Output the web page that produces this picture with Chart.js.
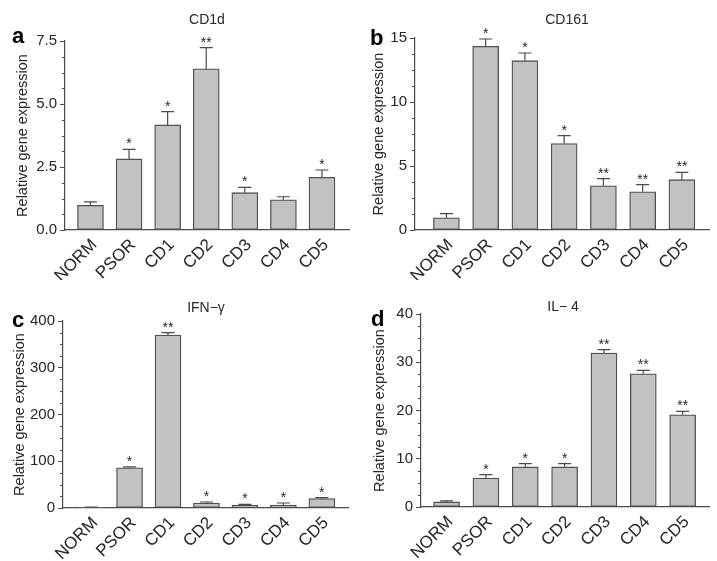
<!DOCTYPE html>
<html lang="en">
<head>
  <meta charset="UTF-8" />
  <title>Relative gene expression</title>
  <style>
    body {
      margin: 0;
      background: #fff;
    }
    .wrap {
      position: relative;
      width: 717px;
      height: 561px;
      overflow: hidden;
    }
    canvas {
      position: absolute;
    }
    #ca { left: 0; top: 0; }
    #cb { left: 358px; top: 0; }
    #cc { left: 0; top: 280px; }
    #cd { left: 358px; top: 280px; }
  </style>
</head>
<body>
  <div class="wrap">
    <canvas id="ca" width="358" height="280"></canvas>
    <canvas id="cb" width="359" height="280"></canvas>
    <canvas id="cc" width="358" height="281"></canvas>
    <canvas id="cd" width="359" height="281"></canvas>
  </div>

  <script src="https://cdn.jsdelivr.net/npm/chart.js"></script>
  <script>
    // data
    const groups = ['NORM', 'PSOR', 'CD1', 'CD2', 'CD3', 'CD4', 'CD5'];

    const cd1dMean = [0.98, 2.82, 4.17, 6.4, 1.48, 1.2, 2.09];
    const cd1dTop = [1.12, 3.2, 4.7, 7.24, 1.69, 1.32, 2.38];
    const cd1dStars = ['', '*', '*', '**', '*', '', '*'];
    const cd1dTicks = [0, 2.5, 5, 7.5];

    const cd161Mean = [0.95, 14.35, 13.23, 6.75, 3.45, 2.98, 3.93];
    const cd161Top = [1.28, 14.92, 13.83, 7.37, 4.01, 3.54, 4.5];
    const cd161Stars = ['', '*', '*', '*', '**', '**', '**'];
    const cd161Ticks = [0, 5, 10, 15];

    const ifngMean = [1, 86, 370, 10.7, 6.4, 6.4, 20];
    const ifngTop = [2, 88, 375, 12.8, 7.8, 10.7, 22];
    const ifngStars = ['', '*', '**', '*', '*', '*', '*'];
    const ifngTicks = [0, 100, 200, 300, 400];

    const il4Mean = [1.05, 6.0, 8.3, 8.3, 31.9, 27.6, 19.1];
    const il4Top = [1.25, 6.7, 9.0, 9.0, 32.6, 28.3, 19.8];
    const il4Stars = ['', '*', '*', '*', '**', '**', '**'];
    const il4Ticks = [0, 10, 20, 30, 40];

    const ink = '#262626';
    const axisInk = '#4a4a4a';
    const fam = '"Liberation Sans", Arial, Helvetica, sans-serif';

    Chart.defaults.font.family = fam;
    Chart.defaults.color = ink;

    // error bars, stars, minor ticks, panel title and letter
    const deco = {
      id: 'deco',
      afterDatasetsDraw(chart, args, o) {
        const ctx = chart.ctx;
        const y = chart.scales.y;
        const meta = chart.getDatasetMeta(0);
        const left = chart.chartArea.left;
        ctx.save();
        ctx.strokeStyle = axisInk;
        ctx.lineWidth = 1.2;
        o.top.forEach((t, i) => {
          const bar = meta.data[i];
          const ey = y.getPixelForValue(t);
          ctx.beginPath();
          ctx.moveTo(bar.x, bar.y);
          ctx.lineTo(bar.x, ey);
          ctx.moveTo(bar.x - 6.5, ey);
          ctx.lineTo(bar.x + 6.5, ey);
          ctx.stroke();
          if (o.stars[i]) {
            ctx.fillStyle = ink;
            ctx.font = '14px ' + fam;
            ctx.textAlign = 'center';
            ctx.textBaseline = 'alphabetic';
            ctx.fillText(o.stars[i], bar.x, ey - 1);
          }
        });
        // minor ticks, 4 intervals per major step
        const t = o.ticks;
        const minor = (t[1] - t[0]) / 4;
        ctx.lineWidth = 1;
        for (let k = 1; k < (t.length - 1) * 4; k++) {
          if (k % 4 === 0) continue;
          const py = Math.round(y.getPixelForValue(k * minor)) + 0.5;
          ctx.beginPath();
          ctx.moveTo(left - 3, py);
          ctx.lineTo(left, py);
          ctx.stroke();
        }
        ctx.restore();
      },
      afterDraw(chart, args, o) {
        const ctx = chart.ctx;
        ctx.save();
        ctx.fillStyle = ink;
        ctx.textBaseline = 'alphabetic';
        ctx.font = '14px ' + fam;
        ctx.textAlign = 'center';
        ctx.fillText(o.title, o.titleX, o.titleY);
        ctx.font = 'bold 22px ' + fam;
        ctx.textAlign = 'left';
        ctx.fillStyle = '#000';
        ctx.fillText(o.letter, o.letterX, o.letterY);
        ctx.restore();
      }
    };

    function makePanel(id, p) {
      new Chart(document.getElementById(id), {
        type: 'bar',
        data: {
          datasets: [{
            data: p.mean.map((v, i) => ({ x: i, y: v })),
            backgroundColor: '#c2c2c2',
            borderColor: '#505050',
            borderWidth: 1.3,
            borderSkipped: false,
            barThickness: 26
          }]
        },
        options: {
          responsive: false,
          animation: false,
          layout: { padding: { top: p.top, right: p.right, left: 0, bottom: 0 } },
          plugins: {
            legend: { display: false },
            tooltip: { enabled: false },
            deco: {
              top: p.errTop,
              stars: p.stars,
              ticks: p.ticks,
              title: p.title,
              titleX: p.titleX,
              titleY: p.titleY,
              letter: p.letter,
              letterX: p.letterX,
              letterY: p.letterY
            }
          },
          scales: {
            x: {
              type: 'linear',
              offset: false,
              min: p.xMin,
              max: p.xMax,
              afterBuildTicks: (s) => { s.ticks = groups.map((g, i) => ({ value: i })); },
              afterFit: (s) => { s.height = p.xHeight; },
              grid: { display: false, offset: false },
              border: { display: true, color: axisInk, width: 1.2 },
              ticks: {
                autoSkip: false,
                minRotation: 45,
                maxRotation: 45,
                padding: -3,
                labelOffset: 4,
                font: { size: 17 },
                color: ink,
                callback: (v) => groups[v]
              }
            },
            y: {
              min: p.ticks[0],
              max: p.ticks[p.ticks.length - 1],
              afterBuildTicks: (s) => { s.ticks = p.ticks.map(v => ({ value: v })); },
              afterFit: (s) => { s.width = p.yWidth; },
              grid: {
                drawOnChartArea: false,
                drawTicks: true,
                tickLength: 5,
                tickColor: axisInk,
                tickWidth: 1
              },
              border: { display: true, color: axisInk, width: 1.2 },
              ticks: {
                padding: 3,
                font: { size: 15 },
                color: ink,
                callback: p.fmt
              },
              title: {
                display: true,
                text: 'Relative gene expression',
                font: { size: 14.5 },
                color: ink,
                padding: { top: p.titlePad, bottom: 0 }
              }
            }
          }
        },
        plugins: [deco]
      });
    }

    makePanel('ca', {
      mean: cd1dMean, errTop: cd1dTop, stars: cd1dStars, ticks: cd1dTicks,
      fmt: (v) => v.toFixed(1),
      title: 'CD1d', titleX: 207, titleY: 24, letter: 'a', letterX: 12, letterY: 43,
      xMin: -0.66, xMax: 6.7, top: 41, right: 9, xHeight: 50, yWidth: 65, titlePad: 14
    });

    makePanel('cb', {
      mean: cd161Mean, errTop: cd161Top, stars: cd161Stars, ticks: cd161Ticks,
      fmt: (v) => String(v),
      title: 'CD161', titleX: 209, titleY: 24, letter: 'b', letterX: 12, letterY: 45,
      xMin: -0.8, xMax: 6.69, top: 38, right: 8, xHeight: 50, yWidth: 57, titlePad: 12
    });

    makePanel('cc', {
      mean: ifngMean, errTop: ifngTop, stars: ifngStars, ticks: ifngTicks,
      fmt: (v) => String(v),
      title: 'IFN\u2212\u03b3', titleX: 206, titleY: 32, letter: 'c', letterX: 12, letterY: 47,
      xMin: -0.73, xMax: 6.68, top: 41, right: 10, xHeight: 53, yWidth: 63, titlePad: 11
    });

    makePanel('cd', {
      mean: il4Mean, errTop: il4Top, stars: il4Stars, ticks: il4Ticks,
      fmt: (v) => String(v),
      title: 'IL\u2212 4', titleX: 205, titleY: 31, letter: 'd', letterX: 13, letterY: 46,
      xMin: -0.65, xMax: 6.67, top: 34, right: 8, xHeight: 54, yWidth: 63, titlePad: 13
    });
  </script>
</body>
</html>
